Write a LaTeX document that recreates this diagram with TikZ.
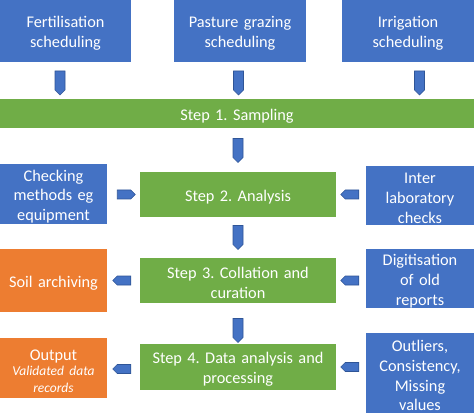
\documentclass[tikz,border=0pt]{standalone}
\usepackage{fontspec}
\setmainfont{Carlito}
\frenchspacing
\usetikzlibrary{shapes.symbols}
\definecolor{oblue}{HTML}{4472C4}
\definecolor{ogreen}{HTML}{70AD47}
\definecolor{oorange}{HTML}{ED7D31}
\definecolor{odark}{HTML}{2F5597}
\tikzset{
  boxbase/.style={inner sep=0pt, text=white, align=center, font=\fontsize{16.3}{19.8}\selectfont,
    execute at begin node={\rule{0pt}{16.5pt}}},
  bluebox/.style={boxbase, fill=oblue},
  greenbox/.style={boxbase, fill=ogreen},
  orangebox/.style={boxbase, fill=oorange},
  arr/.style={signal, signal pointer angle=90, fill=oblue, draw=odark, line width=0.6pt, inner sep=0pt},
  darr/.style={arr, signal to=south, minimum width=10pt, minimum height=19pt},
  rarr/.style={arr, signal to=east, minimum width=18pt, minimum height=9pt},
  larr/.style={arr, signal to=west, minimum width=18pt, minimum height=9pt},
}
\begin{document}
\begin{tikzpicture}[x=1pt,y=-1pt]
\useasboundingbox (0,0) rectangle (474,414);
% top boxes
\node[bluebox, minimum width=131pt, minimum height=62pt, text width=125pt] (fert) at (65.5,31) {Fertilisation\\scheduling};
\node[bluebox, minimum width=132pt, minimum height=62pt, text width=126pt] (past) at (240,31) {Pasture grazing\\scheduling};
\node[bluebox, minimum width=132pt, minimum height=62pt, text width=126pt] (irr) at (408,31) {Irrigation\\scheduling};
% step 1
\node[greenbox, minimum width=474pt, minimum height=29pt, text width=460pt] (s1) at (237,113.5) {Step 1. Sampling};
% step boxes
\node[greenbox, minimum width=196pt, minimum height=45pt, text width=190pt] (s2) at (238,194.5) {Step 2. Analysis};
\node[greenbox, minimum width=196pt, minimum height=45pt, text width=190pt] (s3) at (238,280.5) {Step 3. Collation and\\curation};
\node[greenbox, minimum width=196pt, minimum height=46pt, text width=190pt] (s4) at (238,367) {Step 4. Data analysis and\\processing};
% left boxes
\node[bluebox, minimum width=107pt, minimum height=60pt, text width=103pt] (chk) at (53.5,194) {Checking\\methods eg\\equipment};
\node[orangebox, minimum width=107pt, minimum height=63pt, text width=103pt] (soil) at (53.5,280.5) {Soil archiving};
\node[orangebox, minimum width=107pt, minimum height=60pt, text width=103pt] (out) at (53.5,368) {Output\par\vspace{-1pt}{\itshape\fontsize{13.5}{16.5}\selectfont Validated data\\records\par}};
% right boxes
\node[bluebox, minimum width=108pt, minimum height=59pt, text width=104pt] (inter) at (420,195.5) {Inter\\laboratory\\checks};
\node[bluebox, minimum width=108pt, minimum height=59pt, text width=104pt] (dig) at (420,278.5) {Digitisation\\of old\\reports};
\node[bluebox, minimum width=108pt, minimum height=80pt, text width=104pt] (outl) at (420,373) {Outliers,\\Consistency,\\Missing\\values};
% arrows
\node[darr] (a1) at (60,80.5) {};
\node[darr] (a2) at (238.5,80.5) {};
\node[darr] (a3) at (419.5,80.5) {};
\node[darr] (a4) at (238,148) {};
\node[darr] (a5) at (238,235) {};
\node[darr] (a6) at (238,328) {};
\node[rarr] (a7) at (124,194.5) {};
\node[larr] (a8) at (352,194.5) {};
\node[larr] (a9) at (124,280.5) {};
\node[larr] (a10) at (352,280.5) {};
\node[larr] (a11) at (124,369) {};
\node[larr] (a12) at (352,367) {};
\end{tikzpicture}
\end{document}
